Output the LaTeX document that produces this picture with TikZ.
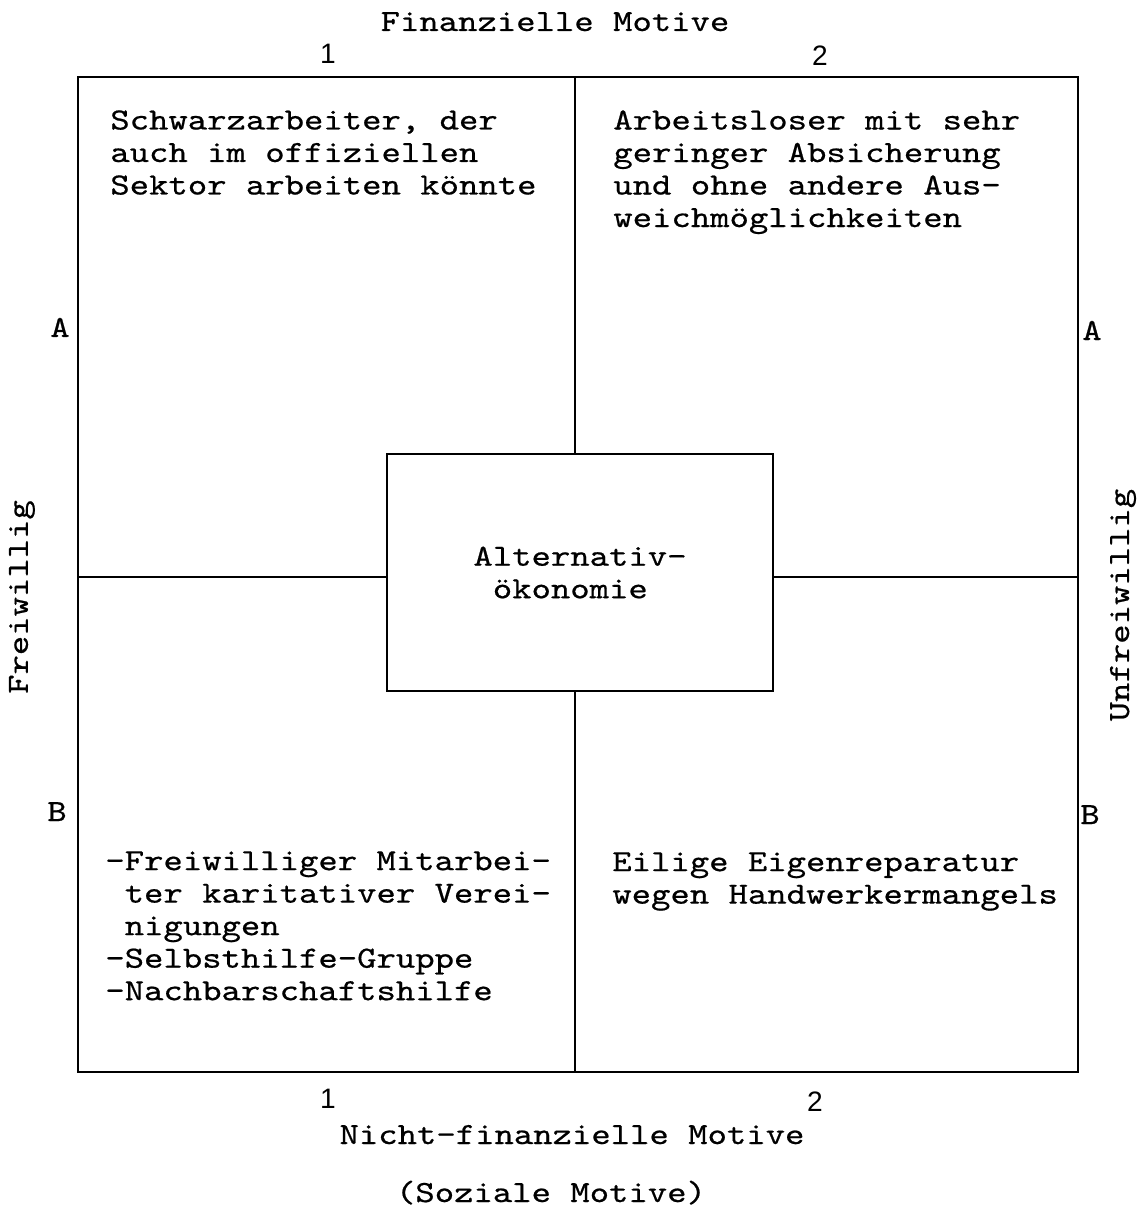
\documentclass[tikz,border=0pt]{standalone}
\usepackage{fontspec}
\newfontfamily\typewriter{lmmono10-regular}[Extension=.otf, FakeStretch=1.2, FakeBold=0.6]
\newfontfamily\digitfont{Liberation Sans}
\tikzset{
  typed/.style={font=\typewriter\fontsize{17.5}{18.5}\selectfont, inner sep=0pt},
  cell/.style={typed, align=left, anchor=north west},
  digit/.style={font=\digitfont\fontsize{16}{16}\selectfont, inner sep=0pt, anchor=base},
  frame/.style={line width=1.3pt},
}
\begin{document}
\begin{tikzpicture}[x=0.02cm, y=-0.02cm]
  \useasboundingbox (0,0) rectangle (1145,1209);
  % outer frame and cross
  \coordinate (nw) at (78,77);
  \coordinate (se) at (1078,1072);
  \coordinate (tm) at (575,77);
  \coordinate (bm) at (575,1072);
  \coordinate (lm) at (78,577);
  \coordinate (rm) at (1078,577);
  \draw[frame] (nw) rectangle (se);
  \node[typed, draw, frame, minimum width=7.72cm, minimum height=4.74cm, align=left] (alt) at (580,572.5) {Alternativ-\\~ökonomie};
  \draw[frame] (tm) -- (alt.north -| tm);
  \draw[frame] (alt.south -| bm) -- (bm);
  \draw[frame] (lm) -- (alt.west |- lm);
  \draw[frame] (alt.east |- rm) -- (rm);
  % quadrants
  \node[cell] (q1) at (110,110) {Schwarzarbeiter, der\\auch im offiziellen\\Sektor arbeiten könnte};
  \node[cell] (q2) at (613,110) {Arbeitsloser mit sehr\\geringer Absicherung\\und ohne andere Aus-\\weichmöglichkeiten};
  \node[cell] (q3) at (105,851) {-Freiwilliger Mitarbei-\\~ter karitativer Verei-\\~nigungen\\-Selbsthilfe-Gruppe\\-Nachbarschaftshilfe};
  \node[cell] (q4) at (612,852) {Eilige Eigenreparatur\\wegen Handwerkermangels};
  % axis labels
  \node[typed, anchor=base] (fin) at (555,31) {Finanzielle Motive};
  \node[digit] (top1) at (328,64) {1};
  \node[digit] (top2) at (820,66) {2};
  \node[digit] (bot1) at (328,1108) {1};
  \node[digit] (bot2) at (815,1111) {2};
  \node[typed, anchor=base] (nfin) at (572,1144) {Nicht-finanzielle Motive};
  \node[typed, anchor=base] (soz) at (551,1202) {(Soziale Motive)};
  \node[typed, anchor=base] (la) at (60,337) {A};
  \node[typed, anchor=base] (ra) at (1092,340) {A};
  \node[typed, anchor=base] (lb) at (57,821) {B};
  \node[typed, anchor=base] (rb) at (1090,824) {B};
  \node[typed, rotate=90] (frei) at (22,597) {Freiwillig};
  \node[typed, rotate=90] (unfrei) at (1123,605) {Unfreiwillig};
\end{tikzpicture}
\end{document}
